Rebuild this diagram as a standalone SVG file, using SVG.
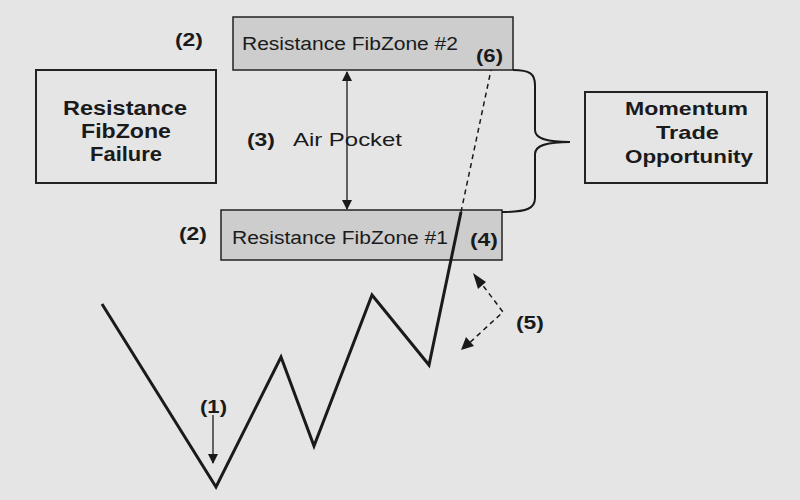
<svg xmlns="http://www.w3.org/2000/svg" width="800" height="500" viewBox="0 0 800 500">
<defs>
<style>
.bg{fill:#e5e5e5}
.zone{fill:#cdcdcd;stroke:#222;stroke-width:1.5}
.box{fill:#e5e5e5;stroke:#222;stroke-width:2}
.t{font-family:"Liberation Sans",Arial,sans-serif;fill:#1a1a1a}
.b{font-weight:bold}
.ln{fill:none;stroke:#1a1a1a}
</style>
<marker id="ah" viewBox="0 0 10 10" refX="9" refY="5" markerWidth="10" markerHeight="10" orient="auto-start-reverse" markerUnits="userSpaceOnUse">
<path d="M0,0 L10,5 L0,10 z" fill="#1a1a1a"/>
</marker>
</defs>
<rect class="bg" x="0" y="0" width="800" height="500"/>

<g id="zone2">
<rect class="zone" x="233" y="17" width="280" height="53"/>
<text class="t" x="242" y="50" font-size="18" textLength="216" lengthAdjust="spacingAndGlyphs">Resistance FibZone #2</text>
</g>
<g id="zone1">
<rect class="zone" x="221" y="210" width="281" height="50"/>
<text class="t" x="232" y="244" font-size="18" textLength="216" lengthAdjust="spacingAndGlyphs">Resistance FibZone #1</text>
</g>
<g id="failure">
<rect class="box" x="36" y="70" width="180" height="113"/>
<text class="t b" x="63" y="115" font-size="20" textLength="124" lengthAdjust="spacingAndGlyphs">Resistance</text>
<text class="t b" x="81" y="138" font-size="20" textLength="90" lengthAdjust="spacingAndGlyphs">FibZone</text>
<text class="t b" x="90" y="161" font-size="20" textLength="72" lengthAdjust="spacingAndGlyphs">Failure</text>
</g>
<g id="momentum">
<rect class="box" x="585" y="92" width="182" height="91"/>
<text class="t b" x="625" y="115" font-size="19" textLength="123" lengthAdjust="spacingAndGlyphs">Momentum</text>
<text class="t b" x="656" y="139" font-size="19" textLength="63" lengthAdjust="spacingAndGlyphs">Trade</text>
<text class="t b" x="625" y="163" font-size="19" textLength="128" lengthAdjust="spacingAndGlyphs">Opportunity</text>
</g>

<g id="labels" class="t b" font-size="19">
<text x="175" y="46" textLength="28" lengthAdjust="spacingAndGlyphs">(2)</text>
<text x="179" y="240" textLength="28" lengthAdjust="spacingAndGlyphs">(2)</text>
<text x="247" y="146" textLength="28" lengthAdjust="spacingAndGlyphs">(3)</text>
<text x="476" y="62" textLength="27" lengthAdjust="spacingAndGlyphs">(6)</text>
<text x="470" y="246" textLength="28" lengthAdjust="spacingAndGlyphs">(4)</text>
<text x="516" y="329" textLength="28" lengthAdjust="spacingAndGlyphs">(5)</text>
<text x="200" y="413" textLength="27" lengthAdjust="spacingAndGlyphs">(1)</text>
</g>
<text class="t" x="293" y="146" font-size="19" textLength="109" lengthAdjust="spacingAndGlyphs">Air Pocket</text>

<g id="connectors">
<path class="ln" stroke-width="2" d="M513,70 C530,70 535,74 535,85 L535,130 C535,138 545,142 570,142 C545,142 535,146 535,154 L535,198 C535,208 528,212 502,212"/>
<line class="ln" stroke-width="1.3" x1="347" y1="72" x2="347" y2="209" marker-start="url(#ah)" marker-end="url(#ah)"/>
<polyline class="ln" stroke-width="3" stroke-linejoin="miter" points="102,304 216,487 281,357 314,446 372,295 429,365 461,212"/>
<line class="ln" stroke-width="1.5" stroke-dasharray="5,4" x1="461" y1="212" x2="491" y2="70"/>
<line class="ln" stroke-width="1.3" x1="213" y1="415" x2="213" y2="463" marker-end="url(#ah)"/>
<polyline class="ln" stroke-width="1.5" stroke-dasharray="5,4" points="478,279 503,312 465,347"/>
<path d="M473,273 L486,282 L478,289 z" fill="#1a1a1a"/>
<path d="M461,350 L466,337 L474,346 z" fill="#1a1a1a"/>
</g>
</svg>
